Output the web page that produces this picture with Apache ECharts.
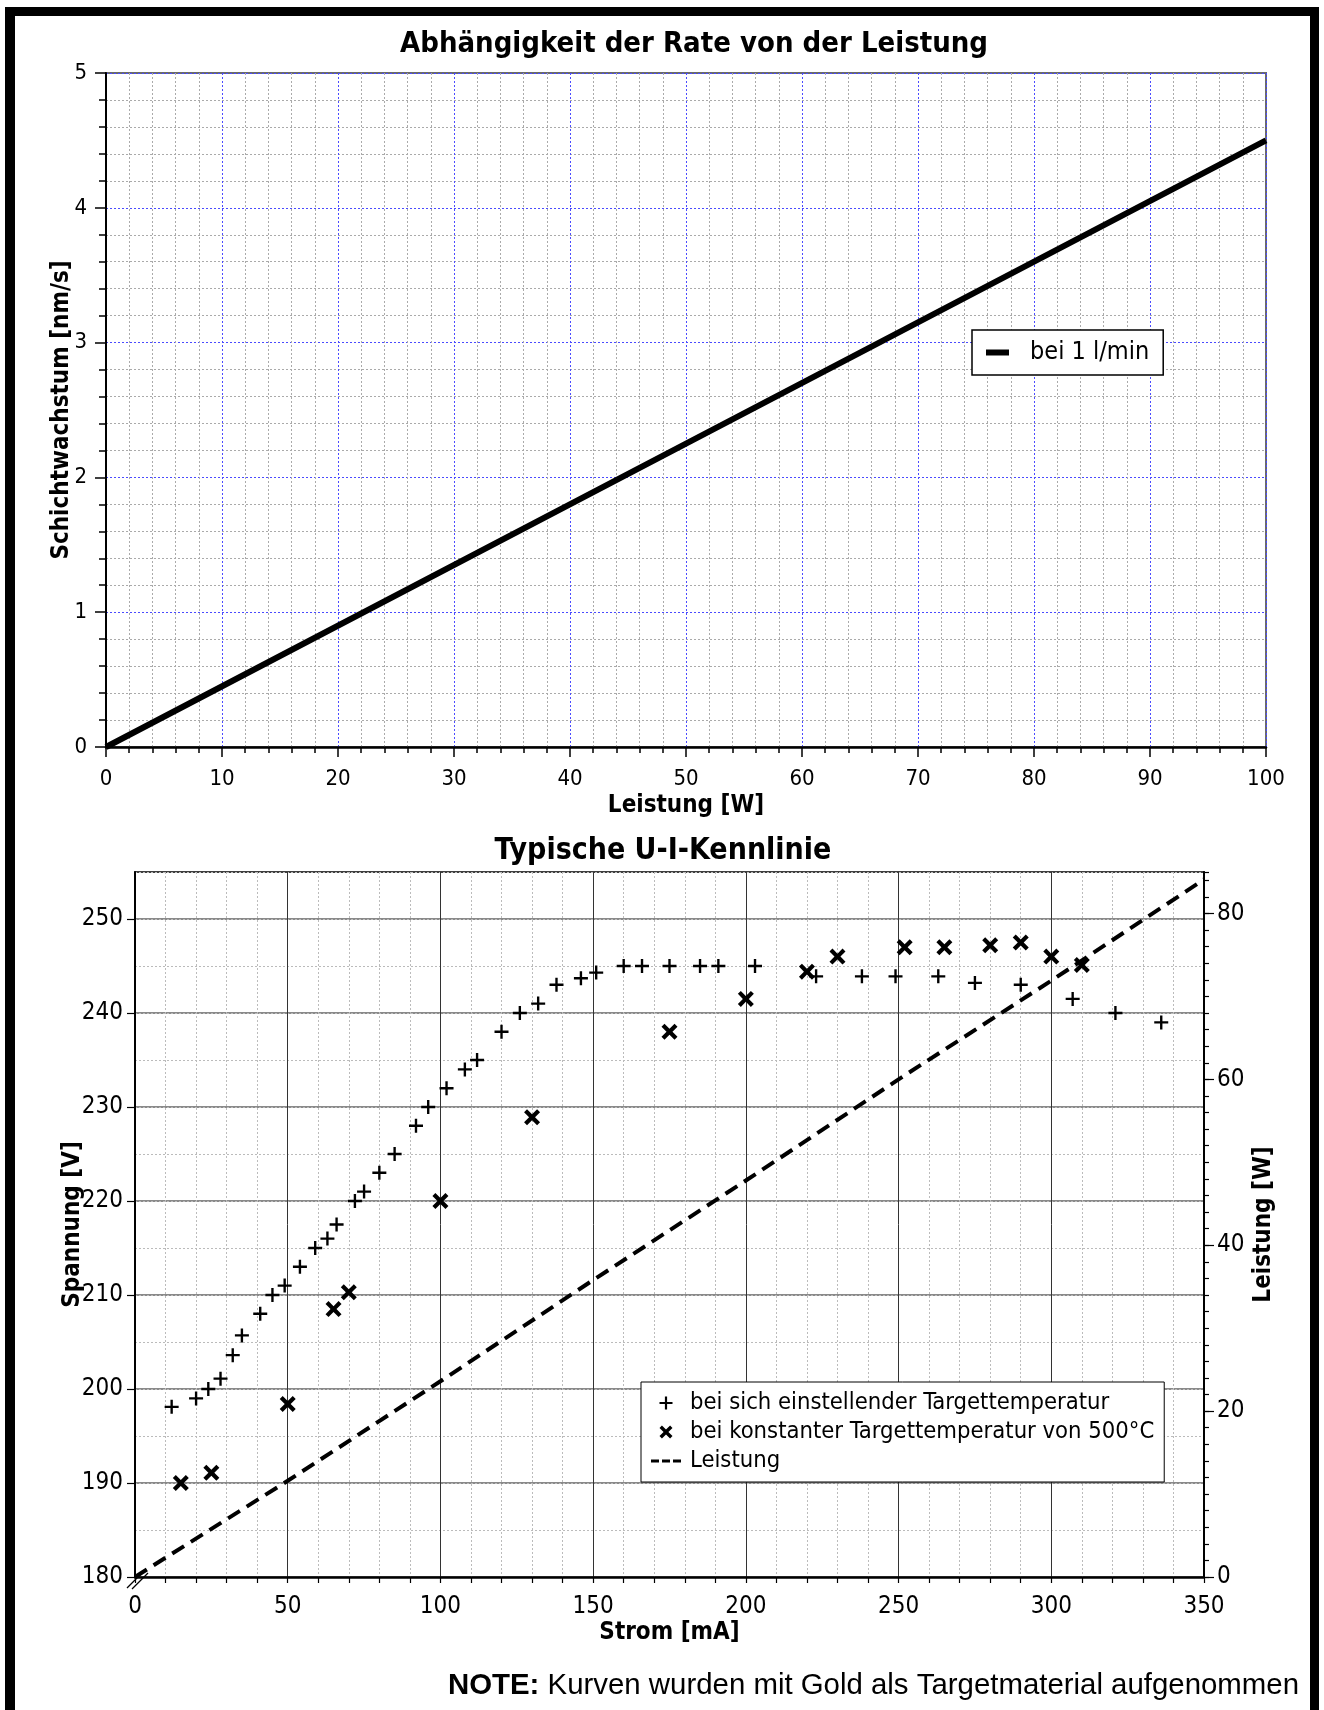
<!DOCTYPE html>
<html>
<head>
<meta charset="utf-8">
<title>Rate und U-I-Kennlinie</title>
<script src="https://cdn.jsdelivr.net/npm/echarts@6/dist/echarts.min.js"></script>
<style>
html,body{margin:0;padding:0;background:#fff;}
#main{width:1324px;height:1710px;}
</style>
</head>
<body>
<div id="main"></div>
<script>
/******************** Daten oben: Schichtwachstum ueber Leistung ********************/
var rateLeistung = [0, 50, 100];            // W
var rateWert = [0, 2.25, 4.5];              // nm/s
var obenXTicks = [0, 10, 20, 30, 40, 50, 60, 70, 80, 90, 100];
var obenYTicks = [0, 1, 2, 3, 4, 5];

/******************** Daten unten: U-I-Kennlinie ********************/
// + bei sich einstellender Targettemperatur
var stromPlus = [12, 20, 24, 28, 32, 35, 41, 45, 49, 54, 59, 63, 66, 72, 75, 80, 85, 92, 96, 102,
    108, 112, 120, 126, 132, 138, 146, 151, 160, 166, 175, 185, 191, 203, 223, 238, 249, 263, 275, 290,
    307, 321, 336];
var spannungPlus = [198.1, 199.0, 200.0, 201.1, 203.6, 205.7, 208.0, 210.0, 211.0, 213.0, 215.0, 216.0, 217.5, 220.0, 221.0, 223.0, 225.0, 228.0, 230.0, 232.0,
    234.0, 235.0, 238.0, 240.0, 241.0, 243.0, 243.7, 244.3, 245.0, 245.0, 245.0, 245.0, 245.0, 245.0, 243.9, 243.9, 243.9, 243.9, 243.2, 243.0,
    241.5, 240.0, 239.0];
// x bei konstanter Targettemperatur von 500°C
var stromKreuz = [15, 25, 50, 65, 70, 100, 130, 175, 200, 220, 230, 252, 265, 280, 290, 300, 310];
var spannungKreuz = [190.0, 191.1, 198.4, 208.5, 210.3, 220.0, 228.9, 238.0, 241.5, 244.4, 246.0, 247.0, 247.0, 247.2, 247.5, 246.0, 245.1];
// gestrichelte Leistung (rechte Achse)
var stromLeistung = [0, 50, 100, 150, 200, 250, 300, 350];
var leistungWerte = [0, 11.6, 23.6, 35.8, 47.8, 60, 71.9, 84.1];

var stromTicks = [0, 50, 100, 150, 200, 250, 300, 350];
var spannungTicks = [180, 190, 200, 210, 220, 230, 240, 250];
var spannungMax = 255;
var leistungTicks = [0, 20, 40, 60, 80];
var leistungMax = 85;

var FONT = "'DejaVu Sans Condensed', 'DejaVu Sans', sans-serif";
var plusPath = 'path://M5.4,0H7.6V5.4H13V7.6H7.6V13H5.4V7.6H0V5.4H5.4Z';
var kreuzPath = 'path://M0,2.6L2.6,0L7,4.4L11.4,0L14,2.6L9.6,7L14,11.4L11.4,14L7,9.6L2.6,14L0,11.4L4.4,7Z';
var strichPath = 'path://M0,0H8V3H0Z M11,0H19V3H11Z M22,0H30V3H22Z';

function paare(xs, ys){
    return xs.map(function(x, i){ return [x, ys[i]]; });
}
function schritt(t){ return t[1] - t[0]; }

var nameStyle = {fontFamily: FONT, fontSize: 24, fontWeight: 'bold', color: '#000'};

var chart = echarts.init(document.getElementById('main'));
var option = {
    animation: false,
    backgroundColor: '#fff',
    textStyle: {fontFamily: FONT, color: '#000'},
    title: [
        {text: 'Abhängigkeit der Rate von der Leistung', left: 694, top: 30, textAlign: 'center', padding: 0,
            textStyle: {fontFamily: FONT, fontSize: 29, fontWeight: 'bold', color: '#000'}},
        {text: 'Typische U-I-Kennlinie', left: 663, top: 836, textAlign: 'center', padding: 0,
            textStyle: {fontFamily: FONT, fontSize: 30, fontWeight: 'bold', color: '#000'}}
    ],
    grid: [
        {left: 106, top: 73, width: 1160, height: 674, show: true, borderColor: '#6a6a6a', borderWidth: 2},
        {left: 135, top: 872, width: 1069, height: 705, show: true, borderColor: '#000', borderWidth: 1.5}
    ],
    xAxis: [
        {   // oben
            gridIndex: 0, type: 'value',
            min: obenXTicks[0], max: obenXTicks[obenXTicks.length - 1], interval: schritt(obenXTicks),
            name: 'Leistung [W]', nameLocation: 'middle', nameGap: 47, nameMoveOverlap: false, nameTextStyle: nameStyle,
            axisLine: {show: true, onZero: false, lineStyle: {color: '#000', width: 2.5}},
            axisTick: {show: true, length: 10, lineStyle: {color: '#000', width: 1.5}},
            minorTick: {show: true, splitNumber: 5, length: 6, lineStyle: {color: '#000', width: 1.5}},
            axisLabel: {margin: 21, fontSize: 22, color: '#000', fontFamily: FONT},
            splitLine: {show: true, lineStyle: {color: '#4b4bff', type: [2, 2], width: 1}},
            minorSplitLine: {show: true, lineStyle: {color: '#aaaaaa', type: [2, 2], width: 1}}
        },
        {   // unten
            gridIndex: 1, type: 'value',
            min: stromTicks[0], max: stromTicks[stromTicks.length - 1], interval: schritt(stromTicks),
            name: 'Strom [mA]', nameLocation: 'middle', nameGap: 44, nameMoveOverlap: false, nameTextStyle: nameStyle,
            axisLine: {show: true, onZero: false, lineStyle: {color: '#000', width: 2.5}},
            axisTick: {show: true, length: 6, lineStyle: {color: '#000', width: 1.2}},
            minorTick: {show: true, splitNumber: 5, length: 6, lineStyle: {color: '#000', width: 1.2}},
            axisLabel: {margin: 18, fontSize: 24, color: '#000', fontFamily: FONT},
            splitLine: {show: true, lineStyle: {color: '#333', width: 1}},
            minorSplitLine: {show: true, lineStyle: {color: '#bbbbbb', type: [2, 2], width: 1}}
        }
    ],
    yAxis: [
        {   // 0: oben
            gridIndex: 0, type: 'value', position: 'left',
            min: obenYTicks[0], max: obenYTicks[obenYTicks.length - 1], interval: schritt(obenYTicks),
            name: 'Schichtwachstum [nm/s]', nameLocation: 'middle', nameGap: 32, nameMoveOverlap: false, nameTextStyle: nameStyle,
            axisLine: {show: true, onZero: false, lineStyle: {color: '#000', width: 2}},
            axisTick: {show: true, length: 11, lineStyle: {color: '#000', width: 1.5}},
            minorTick: {show: true, splitNumber: 5, length: 7, lineStyle: {color: '#000', width: 1.5}},
            axisLabel: {margin: 19, fontSize: 22, color: '#000', fontFamily: FONT},
            splitLine: {show: true, lineStyle: {color: '#4b4bff', type: [2, 2], width: 1}},
            minorSplitLine: {show: true, lineStyle: {color: '#aaaaaa', type: [2, 2], width: 1}}
        },
        {   // 1: Spannung
            gridIndex: 1, type: 'value', position: 'left',
            min: spannungTicks[0], max: spannungMax, interval: schritt(spannungTicks),
            name: 'Spannung [V]', nameLocation: 'middle', nameGap: 50, nameMoveOverlap: false, nameTextStyle: nameStyle,
            axisLine: {show: true, onZero: false, lineStyle: {color: '#000', width: 2}},
            axisTick: {show: true, length: 8, lineStyle: {color: '#000', width: 1.2}},
            axisLabel: {margin: 12, fontSize: 24, color: '#000', fontFamily: FONT, showMaxLabel: false},
            splitLine: {show: true, showMaxLine: false, lineStyle: {color: '#8a8a8a', width: 2}}
        },
        {   // 2: feine Linien alle 5 V
            gridIndex: 1, type: 'value', position: 'left',
            min: spannungTicks[0], max: spannungMax, interval: schritt(spannungTicks) / 2,
            axisLine: {show: false}, axisTick: {show: false}, axisLabel: {show: false},
            splitLine: {show: true, lineStyle: {color: '#bbbbbb', type: [2, 2], width: 1}}
        },
        {   // 3: Leistung rechts
            gridIndex: 1, type: 'value', position: 'right',
            min: leistungTicks[0], max: leistungMax, interval: schritt(leistungTicks),
            name: 'Leistung [W]', nameLocation: 'middle', nameGap: 48, nameMoveOverlap: false, nameTextStyle: nameStyle,
            axisLine: {show: true, onZero: false, lineStyle: {color: '#000', width: 2}},
            axisTick: {show: true, length: 10, lineStyle: {color: '#000', width: 1.2}},
            axisLabel: {margin: 13, fontSize: 24, color: '#000', fontFamily: FONT, showMaxLabel: false},
            splitLine: {show: false}
        },
        {   // 4: kleine Striche rechts
            gridIndex: 1, type: 'value', position: 'right',
            min: leistungTicks[0], max: leistungMax, interval: schritt(leistungTicks) / 10,
            axisLine: {show: false},
            axisTick: {show: true, length: 5, lineStyle: {color: '#000', width: 1.2}},
            axisLabel: {show: false}, splitLine: {show: false}
        }
    ],
    legend: [
        {
            data: [{name: 'bei 1 l/min', icon: 'rect'}],
            left: 972, top: 330, orient: 'vertical', selectedMode: false,
            itemWidth: 23, itemHeight: 6,
            padding: [10, 14, 10, 14], borderColor: '#000', borderWidth: 1.5, backgroundColor: '#fff',
            textStyle: {fontFamily: FONT, fontSize: 25, color: '#000', padding: [0, 0, 0, 16]}
        },
        {
            data: [
                {name: 'bei sich einstellender Targettemperatur', icon: plusPath},
                {name: 'bei konstanter Targettemperatur von 500°C', icon: kreuzPath},
                {name: 'Leistung', icon: strichPath}
            ],
            left: 641, top: 1382, orient: 'vertical', selectedMode: false,
            itemWidth: 30, itemHeight: 13, itemGap: 3,
            padding: [8, 10, 8, 10], borderColor: '#000', borderWidth: 1, backgroundColor: '#fff',
            textStyle: {fontFamily: FONT, fontSize: 23.6, lineHeight: 26, color: '#000', padding: [0, 0, 0, 4]}
        }
    ],
    series: [
        {
            name: 'bei 1 l/min', type: 'line', xAxisIndex: 0, yAxisIndex: 0,
            data: paare(rateLeistung, rateWert), symbol: 'none',
            itemStyle: {color: '#000'}, lineStyle: {color: '#000', width: 6}
        },
        {
            name: 'bei sich einstellender Targettemperatur', type: 'scatter', xAxisIndex: 1, yAxisIndex: 1,
            data: paare(stromPlus, spannungPlus), symbol: plusPath, symbolSize: 14,
            itemStyle: {color: '#000', opacity: 1}
        },
        {
            name: 'bei konstanter Targettemperatur von 500°C', type: 'scatter', xAxisIndex: 1, yAxisIndex: 1,
            data: paare(stromKreuz, spannungKreuz), symbol: kreuzPath, symbolSize: 16,
            itemStyle: {color: '#000', opacity: 1}
        },
        {
            name: 'Leistung', type: 'line', xAxisIndex: 1, yAxisIndex: 3,
            data: paare(stromLeistung, leistungWerte), symbol: 'none',
            itemStyle: {color: '#000', borderWidth: 0},
            lineStyle: {color: '#000', width: 4, type: [14, 8]}
        }
    ],
    graphic: [
        // schwarzer Rahmen
        {type: 'rect', shape: {x: 5, y: 7, width: 10, height: 1703}, style: {fill: '#000'}, z: 100},
        {type: 'rect', shape: {x: 5, y: 7, width: 1314, height: 9}, style: {fill: '#000'}, z: 100},
        {type: 'rect', shape: {x: 1310, y: 7, width: 9, height: 1703}, style: {fill: '#000'}, z: 100},
        // Achsenbruch unten links
        {type: 'line', shape: {x1: 127, y1: 1588, x2: 143, y2: 1572}, style: {stroke: '#000', lineWidth: 1.2}, z: 100},
        {type: 'line', shape: {x1: 132, y1: 1589, x2: 148, y2: 1573}, style: {stroke: '#000', lineWidth: 1.2}, z: 100},
        // Hinweis
        {
            type: 'text', x: 1299, y: 1686, z: 100,
            style: {
                text: '{b|NOTE:} Kurven wurden mit Gold als Targetmaterial aufgenommen',
                fontFamily: "'Liberation Sans', Arial, sans-serif", fontSize: 29.4, fill: '#000',
                align: 'right', textAlign: 'right', verticalAlign: 'middle', textVerticalAlign: 'middle',
                rich: {b: {fontFamily: "'Liberation Sans', Arial, sans-serif", fontSize: 29.4, fontWeight: 'bold', fill: '#000'}}
            }
        }
    ]
};
chart.setOption(option);
</script>
</body>
</html>
